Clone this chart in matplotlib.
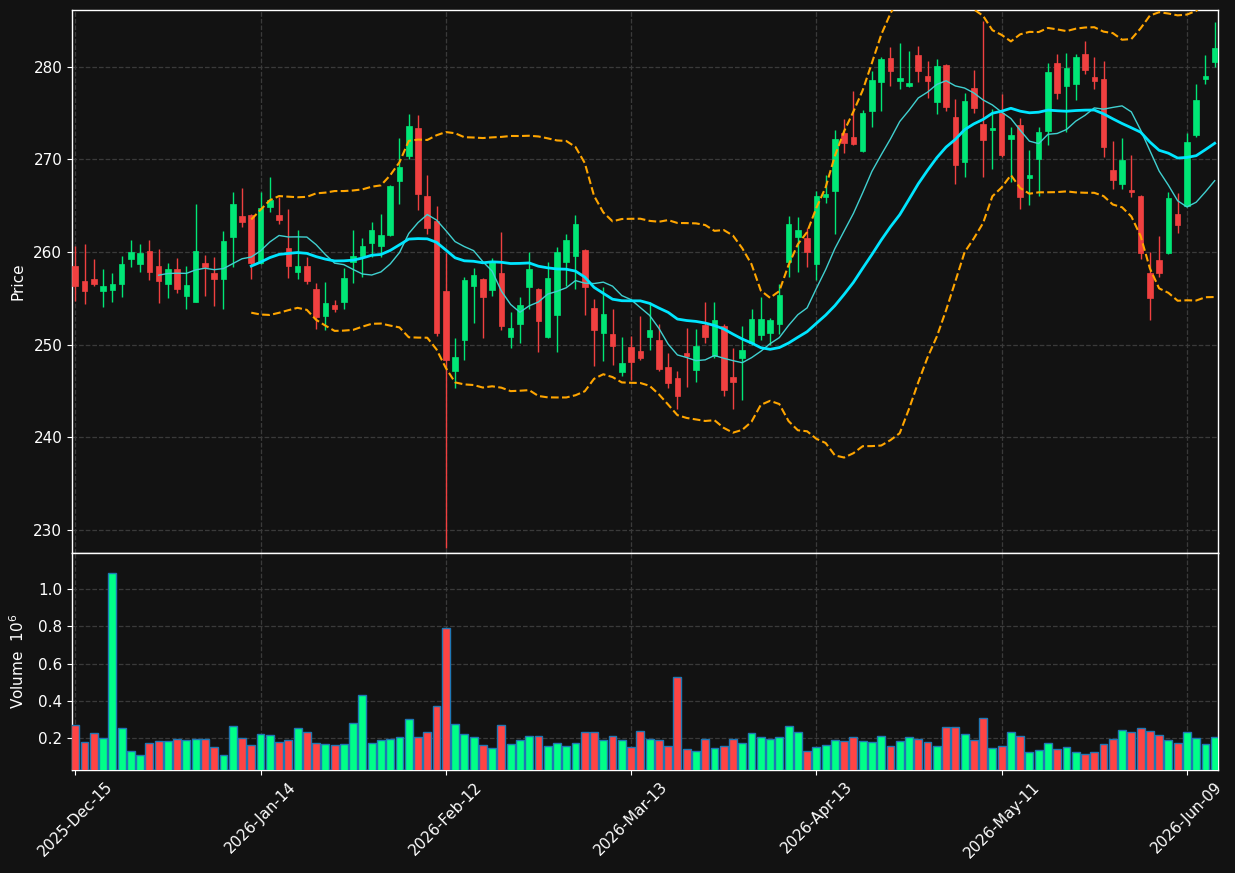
import numpy as np
import pandas as pd
import matplotlib
matplotlib.use("Agg")
import matplotlib.pyplot as plt
from matplotlib.patches import Rectangle

# ---------------- data ----------------
opens = [258.5, 256.9, 257.1, 255.75, 255.95, 256.6, 259.3, 258.76, 260.1, 258.5,
         256.5, 258.2, 255.3, 254.65, 258.8, 257.75, 257.1, 261.6, 263.9, 264.0,
         258.8, 264.9, 264.0, 260.45, 257.9, 258.5, 256.0, 253.1, 254.3, 254.65,
         258.9, 259.6, 261.0, 260.7, 261.8, 267.7, 270.4, 273.45, 266.1, 263.4,
         255.8, 247.2, 250.5, 256.3, 257.1, 255.9, 257.7, 250.8, 252.2, 256.2,
         256.0, 250.8, 253.15, 258.9, 259.6, 260.2, 254.0, 251.3, 251.2, 247.0,
         249.7, 249.3, 250.8, 250.5, 247.6, 246.4, 249.1, 247.3, 252.1, 248.8,
         252.0, 246.5, 248.6, 250.2, 251.0, 251.3, 252.2, 258.9, 261.6, 261.5,
         258.7, 266.0, 266.6, 272.9, 272.4, 270.9, 275.2, 278.4, 281.0, 278.5,
         277.9, 281.3, 279.0, 276.2, 280.2, 274.6, 269.7, 277.7, 273.85, 273.2,
         275.0, 272.25, 273.7, 268.05, 270.1, 273.1, 280.4, 277.9, 278.1, 281.4,
         278.9, 278.7, 268.9, 267.4, 266.7, 266.1, 257.7, 259.15, 259.9, 264.1,
         265.0, 272.65, 278.7, 280.5]
highs = [260.7, 260.85, 259.2, 258.15, 257.7, 259.6, 261.3, 260.85, 261.3, 260.3,
         258.8, 259.35, 258.5, 265.15, 259.7, 259.5, 262.3, 266.5, 266.9, 264.1,
         266.5, 268.1, 265.9, 264.6, 262.4, 259.5, 256.7, 256.8, 254.8, 258.3,
         262.4, 261.5, 263.2, 264.1, 267.2, 272.3, 274.9, 274.8, 268.35, 265.0,
         259.9, 250.7, 257.35, 258.3, 257.2, 259.35, 262.2, 253.5, 255.2, 260.05,
         256.1, 258.9, 260.6, 262.0, 264.0, 260.3, 254.9, 256.2, 253.9, 250.8,
         250.95, 253.1, 254.65, 252.2, 249.1, 247.1, 251.8, 251.7, 254.65, 254.65,
         252.2, 249.6, 252.0, 253.9, 255.2, 252.9, 256.6, 263.9, 263.8, 262.6,
         266.6, 268.3, 273.2, 274.4, 277.45, 275.3, 279.6, 281.1, 282.2, 282.6,
         281.7, 282.3, 280.6, 280.9, 280.3, 276.5, 277.15, 279.7, 285.0, 275.5,
         277.05, 273.5, 274.5, 271.0, 273.5, 280.4, 281.4, 281.5, 281.4, 282.75,
         281.1, 280.6, 272.0, 272.3, 270.5, 266.2, 260.0, 261.7, 266.5, 266.4,
         272.85, 278.2, 281.3, 284.8]
lows = [254.76, 254.4, 256.3, 254.1, 254.65, 255.2, 258.4, 257.9, 257.0, 254.5,
        255.0, 255.6, 253.8, 254.65, 255.3, 254.2, 253.8, 258.4, 262.75, 257.1,
        258.7, 264.3, 263.0, 257.2, 257.1, 256.6, 251.7, 251.6, 253.5, 253.8,
        256.7, 257.35, 259.5, 259.5, 261.7, 265.2, 270.0, 264.55, 261.9, 250.9,
        228.0, 245.3, 248.3, 252.3, 250.7, 255.3, 251.6, 249.6, 250.2, 253.9,
        249.25, 250.7, 249.2, 256.3, 256.0, 253.2, 247.7, 248.2, 247.8, 246.6,
        246.2, 248.3, 249.4, 247.2, 245.3, 243.0, 245.4, 245.95, 250.2, 248.6,
        244.4, 243.1, 244.0, 250.0, 250.5, 250.0, 251.2, 257.35, 257.8, 258.4,
        257.0, 265.35, 261.9, 270.7, 271.6, 270.8, 273.55, 275.2, 277.9, 277.6,
        277.8, 278.35, 276.6, 274.9, 275.2, 267.4, 268.15, 275.0, 268.15, 268.95,
        270.25, 267.6, 264.6, 265.1, 266.1, 271.6, 276.5, 273.0, 276.4, 279.2,
        277.6, 270.3, 266.8, 266.8, 266.0, 259.2, 252.7, 257.35, 259.8, 262.1,
        264.9, 272.4, 278.1, 279.95]
closes = [256.3, 255.8, 256.6, 256.35, 256.57, 258.7, 260.0, 259.9, 257.9, 256.9,
          258.15, 256.06, 256.46, 260.1, 258.4, 257.1, 261.2, 265.2, 263.2, 258.8,
          264.8, 265.6, 263.5, 258.5, 258.5, 256.9, 253.0, 254.5, 253.9, 257.2,
          259.6, 260.7, 262.4, 261.85, 267.1, 269.2, 273.6, 266.25, 262.65, 251.25,
          248.3, 248.7, 257.0, 257.5, 255.2, 259.0, 252.0, 251.8, 254.25, 258.15,
          252.5, 257.2, 260.0, 261.3, 263.0, 256.2, 251.6, 253.3, 249.9, 248.0,
          248.1, 248.6, 251.6, 247.4, 245.9, 244.5, 248.8, 249.9, 250.8, 252.7,
          245.1, 246.0, 249.4, 252.8, 252.8, 252.7, 255.4, 263.05, 262.4, 260.05,
          266.1, 266.3, 272.2, 271.8, 271.7, 275.0, 278.6, 280.9, 279.6, 278.8,
          278.25, 279.6, 278.5, 280.1, 275.7, 269.4, 276.3, 275.6, 272.05, 273.4,
          270.5, 272.65, 265.9, 268.3, 273.0, 279.5, 277.2, 279.85, 281.1, 279.7,
          278.5, 271.3, 267.8, 269.95, 266.5, 259.95, 255.0, 257.7, 265.8, 262.9,
          271.85, 276.4, 279.0, 282.0]
volumes_m = [0.273, 0.182, 0.230, 0.202, 1.084, 0.257, 0.134, 0.113, 0.177, 0.188,
             0.188, 0.198, 0.193, 0.198, 0.198, 0.156, 0.113, 0.268, 0.204, 0.166,
             0.225, 0.220, 0.182, 0.193, 0.257, 0.236, 0.177, 0.172, 0.166, 0.172,
             0.284, 0.433, 0.177, 0.193, 0.198, 0.209, 0.305, 0.209, 0.236, 0.374,
             0.790, 0.278, 0.225, 0.209, 0.166, 0.150, 0.273, 0.172, 0.193, 0.214,
             0.214, 0.161, 0.177, 0.161, 0.177, 0.236, 0.236, 0.193, 0.214, 0.193,
             0.156, 0.241, 0.198, 0.193, 0.161, 0.529, 0.145, 0.134, 0.198, 0.150,
             0.161, 0.198, 0.177, 0.230, 0.209, 0.198, 0.209, 0.268, 0.236, 0.134,
             0.156, 0.166, 0.193, 0.188, 0.209, 0.188, 0.182, 0.214, 0.161, 0.188,
             0.209, 0.198, 0.182, 0.161, 0.262, 0.262, 0.225, 0.193, 0.310, 0.150,
             0.161, 0.236, 0.214, 0.129, 0.140, 0.177, 0.145, 0.156, 0.129, 0.118,
             0.129, 0.172, 0.198, 0.246, 0.236, 0.257, 0.241, 0.220, 0.193, 0.177,
             0.236, 0.204, 0.172, 0.209]
tick_labels = ["2025-Dec-15", "2026-Jan-14", "2026-Feb-12", "2026-Mar-13",
               "2026-Apr-13", "2026-May-11", "2026-Jun-09"]
tick_index = [0, 20, 40, 60, 80, 100, 120]

# ---------------- derived ----------------
o = np.array(opens); h = np.array(highs); l = np.array(lows); c = np.array(closes)
v = np.array(volumes_m)
n = len(c)
x = np.arange(n)
cs = pd.Series(c)
ma20 = cs.rolling(20).mean()
ma10 = cs.rolling(10).mean()
sd20 = cs.rolling(20).std()
upper = ma20 + 2 * sd20
lower = ma20 - 2 * sd20

BG = "#121212"
UP_C = "#00e676"
DN_C = "#f04040"
UP_V = "#00ff88"
DN_V = "#ff4444"
GRID = "#3a3a3a"

fig = plt.figure(figsize=(12.35, 8.73), dpi=100, facecolor=BG)
axp = fig.add_axes([0.0583, 0.3666, 0.9279, 0.6220], facecolor=BG)
axv = fig.add_axes([0.0583, 0.1185, 0.9279, 0.2481], facecolor=BG, sharex=axp)

up = c >= o
bw = 0.6
for i in range(n):
    col = UP_C if up[i] else DN_C
    axp.vlines(x[i], l[i], h[i], color=col, linewidth=1.0, zorder=3)
    bot = min(o[i], c[i])
    ht = max(abs(c[i] - o[i]), 0.08)
    axp.add_patch(Rectangle((x[i] - bw / 2, bot), bw, ht, facecolor=col,
                            edgecolor=col, linewidth=0.5, zorder=4))

axp.plot(x, upper, color="#ffa500", linestyle="--", linewidth=1.5, zorder=5)
axp.plot(x, lower, color="#ffa500", linestyle="--", linewidth=1.5, zorder=5)
axp.plot(x, ma10, color="#40d0d0", linewidth=1.0, zorder=5)
axp.plot(x, ma20, color="#00e5ff", linewidth=2.0, zorder=5)

vcol = [UP_V if u else DN_V for u in up]
axv.bar(x, v, width=0.85, color=vcol, edgecolor="#1f77b4", linewidth=1.0, zorder=3)

axp.set_xlim(-0.35, n - 1 + 0.35)
axp.set_ylim(227.5, 286.15)
axv.set_ylim(0.3 * v.min(), 1.1 * v.max())

for ax in (axp, axv):
    ax.grid(True, color=GRID, linestyle="--", linewidth=0.9)
    ax.set_axisbelow(True)
    for s in ax.spines.values():
        s.set_color("white")
        s.set_linewidth(1.0)
    ax.tick_params(colors="white", labelsize=11)

axp.set_yticks([230, 240, 250, 260, 270, 280])
axv.set_yticks([0.2, 0.4, 0.6, 0.8, 1.0])
axv.set_yticklabels(["0.2", "0.4", "0.6", "0.8", "1.0"])
axv.set_xticks(tick_index)
axv.set_xticklabels(tick_labels, rotation=45, ha="center")
axp.tick_params(axis="x", labelbottom=False, length=0)

axp.set_ylabel("Price", color="white", fontsize=11)
axv.set_ylabel("Volume  $10^{6}$", color="white", fontsize=11)
axp.yaxis.set_label_coords(-0.041, 0.5)
axv.yaxis.set_label_coords(-0.039, 0.5)

fig.savefig("out.png", dpi=100, facecolor=BG)
